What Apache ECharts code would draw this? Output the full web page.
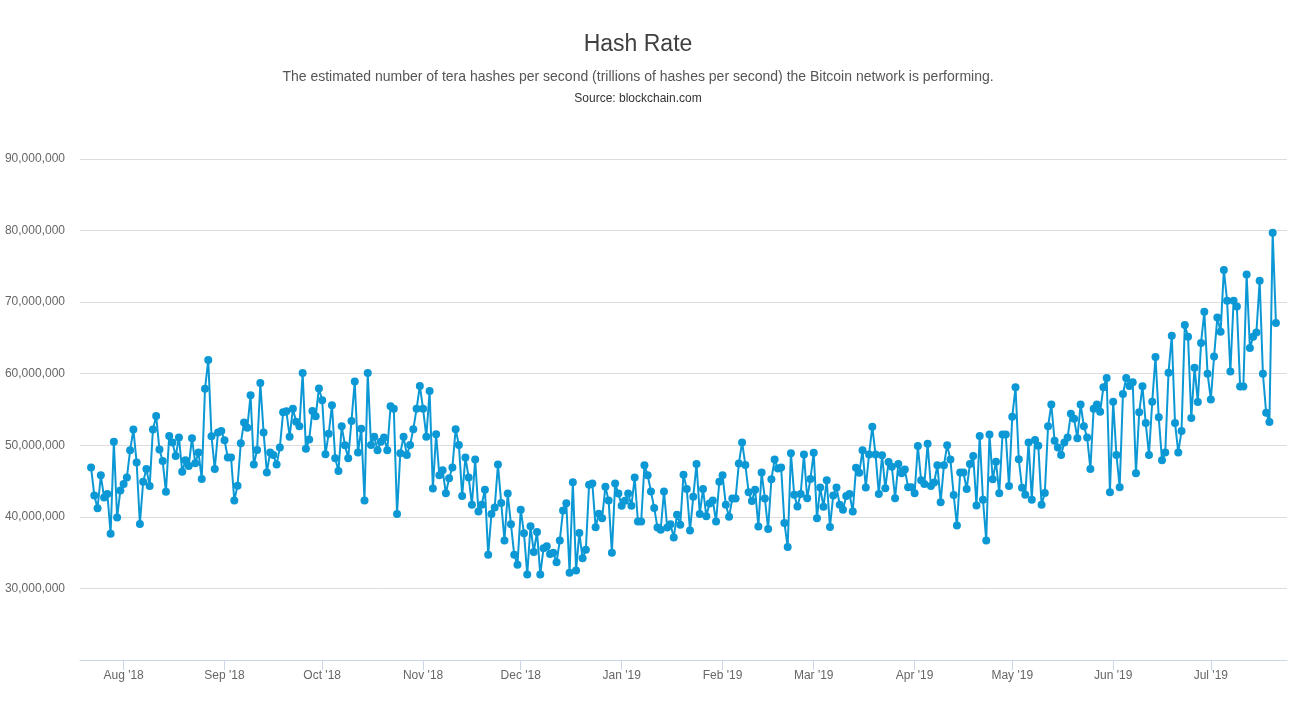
<!DOCTYPE html>
<html><head><meta charset="utf-8">
<script src="https://cdn.jsdelivr.net/npm/echarts@6/dist/echarts.min.js"></script>
<style>html,body{margin:0;padding:0;background:#fff}#chart{width:1304px;height:708px}</style>
</head><body><div id="chart"></div>
<script>
// Daily hash rate, in millions of TH/s, starting 2018-07-22
const startDate = [2018, 6, 22];
const hashRateMillions = [
  46.9, 43.0, 41.2, 45.8, 42.7, 43.2, 37.65, 50.5, 39.9, 43.7,
  44.6, 45.5, 49.3, 52.2, 47.6, 39.0, 44.9, 46.7, 44.3, 52.2,
  54.1, 49.4, 47.8, 43.5, 51.3, 50.4, 48.5, 51.1, 46.3, 47.9,
  47.1, 51.0, 47.5, 49.0, 45.3, 57.9, 61.9, 51.25, 46.7, 51.8,
  52.0, 50.7, 48.3, 48.3, 42.3, 44.35, 50.3, 53.2, 52.45, 57.0,
  47.3, 49.35, 58.7, 51.8, 46.2, 49.0, 48.65, 47.3, 49.7, 54.6,
  54.75, 51.2, 55.1, 53.3, 52.65, 60.1, 49.5, 50.8, 54.8, 54.05,
  57.95, 56.3, 48.75, 51.6, 55.6, 48.2, 46.4, 52.65, 50.0, 48.2,
  53.4, 58.9, 49.0, 52.3, 42.3, 60.1, 50.05, 51.2, 49.3, 50.5,
  51.1, 49.3, 55.45, 55.1, 40.4, 48.9, 51.2, 48.65, 50.05, 52.25,
  55.1, 58.3, 55.1, 51.2, 57.6, 43.95, 51.55, 45.8, 46.5, 43.3,
  45.4, 46.9, 52.25, 50.05, 42.9, 48.3, 45.5, 41.7, 48.0, 40.75,
  41.7, 43.8,
  34.7, 40.4, 41.3, 47.3, 41.95, 36.7, 43.25, 38.95, 34.7, 33.3,
  41.0, 37.7, 31.95, 38.7, 35.1, 37.9, 31.95, 35.6, 35.9, 34.8,
  35.0, 33.65, 36.7, 40.9, 41.9, 32.2, 44.85, 32.5, 37.75, 34.2,
  35.4,
  44.5, 44.65, 38.55, 40.45, 39.8, 44.2, 42.3, 35.0, 44.65, 43.25,
  41.55, 42.25, 43.25, 41.55, 45.5, 39.35, 39.35, 47.2, 45.8, 43.55,
  41.25, 38.5, 38.2, 43.55, 38.5, 38.95, 37.1, 40.3, 38.9, 45.9,
  43.9, 38.1, 42.8, 47.4, 40.4, 43.9, 40.1, 41.85, 42.3, 39.35,
  44.9, 45.8, 41.7, 40.0, 42.55, 42.55, 47.45, 50.4, 47.25, 43.45,
  42.2, 43.8, 38.65, 46.2, 42.55, 38.3, 45.25, 48.0, 46.75, 46.9,
  39.15,
  35.8, 48.9, 43.1, 41.45, 43.2, 48.7, 42.6, 45.3, 48.97, 39.8,
  44.1, 41.4, 45.1, 38.6, 43.0, 44.1, 41.7, 41.0, 42.9, 43.2,
  40.75, 46.85, 46.15, 49.3, 44.1, 48.7, 52.6, 48.7, 43.2, 48.6,
  44.0,
  47.65, 47.0, 42.6, 47.4, 46.1, 46.6, 44.15, 44.15, 43.3, 49.9,
  45.1, 44.6, 50.2, 44.3, 44.8, 47.2, 42.05, 47.2, 50.0, 48.0,
  43.05, 38.8, 46.2, 46.2, 43.9, 47.4, 48.5, 41.6, 51.3, 42.4,
  36.7,
  51.5, 45.25, 47.7, 43.3, 51.5, 51.5, 44.3, 54.0, 58.1, 48.05,
  44.05, 43.1, 50.4, 42.4, 50.75, 49.95, 41.7, 43.35, 52.65, 55.7,
  50.65, 49.7, 48.65, 50.4, 51.1, 54.4, 53.7, 51.0, 55.7, 52.65,
  51.1, 46.7, 55.1, 55.7, 54.7, 58.1, 59.4, 43.45, 56.1, 48.65,
  44.15, 57.15, 59.4, 58.3, 58.8, 46.1, 54.6, 58.25, 53.1, 48.65,
  56.1, 62.35, 53.9, 47.9, 49.0, 60.15, 65.3, 53.1, 49.0, 52.0,
  66.8,
  65.15, 53.8, 60.85, 56.05, 64.3, 68.65, 60.0, 56.4, 62.4, 67.85,
  65.85, 74.5, 70.2, 60.3, 70.2, 69.4, 58.2, 58.2, 73.85, 63.6,
  65.15, 65.75, 73.0, 60.0, 54.55, 53.25, 79.7, 67.1
];
const monthNames = ['Jan', 'Feb', 'Mar', 'Apr', 'May', 'Jun', 'Jul', 'Aug', 'Sep', 'Oct', 'Nov', 'Dec'];
const yMin = 20000000, yMax = 90000000, yStep = 10000000;

const DAY = 86400000;
const t0 = new Date(startDate[0], startDate[1], startDate[2]).getTime();
const dates = hashRateMillions.map((_, i) => t0 + i * DAY);
const seriesData = hashRateMillions.map((v, i) => [dates[i], v * 1000000]);

const chart = echarts.init(document.getElementById('chart'), null, {renderer: 'canvas'});
const font = '"Liberation Sans", Arial, Helvetica, sans-serif';
chart.setOption({
  animation: false,
  backgroundColor: '#ffffff',
  title: [
    {text: 'Hash Rate', left: 638, textAlign: 'center', top: 33, padding: 0,
     textStyle: {fontFamily: font, fontSize: 23, fontWeight: 'normal', color: '#404040'}},
    {text: 'The estimated number of tera hashes per second (trillions of hashes per second) the Bitcoin network is performing.',
     left: 638, textAlign: 'center', top: 70, padding: 0,
     textStyle: {fontFamily: font, fontSize: 14, fontWeight: 'normal', color: '#555555'}},
    {text: 'Source: blockchain.com', left: 638, textAlign: 'center', top: 93, padding: 0,
     textStyle: {fontFamily: font, fontSize: 12, fontWeight: 'normal', color: '#333333'}}
  ],
  grid: {left: 80, right: 17, top: 159, bottom: 48, containLabel: false},
  xAxis: {
    type: 'time',
    min: t0 - 3.4 * DAY,
    max: dates[dates.length - 1] + 3.4 * DAY,
    splitNumber: 12,
    minInterval: 28 * DAY,
    maxInterval: 31 * DAY,
    axisLine: {show: true, lineStyle: {color: '#ccd6eb', width: 1}},
    axisTick: {show: true, length: 10, lineStyle: {color: '#ccd6eb'}},
    splitLine: {show: false},
    axisLabel: {
      fontFamily: font, fontSize: 12, color: '#666666', margin: 10,
      showMinLabel: false, showMaxLabel: false,
      formatter: function (val) {
        const d = new Date(val);
        return monthNames[d.getMonth()] + " '" + String(d.getFullYear()).slice(2);
      }
    }
  },
  yAxis: {
    type: 'value',
    min: yMin, max: yMax, interval: yStep,
    axisLine: {show: false},
    axisTick: {show: false},
    splitLine: {show: true, lineStyle: {color: '#dcdcdc', width: 1}},
    axisLabel: {
      fontFamily: font, fontSize: 12, color: '#666666', margin: 15,
      showMinLabel: false,
      formatter: function (v) { return String(v).replace(/\B(?=(\d{3})+(?!\d))/g, ','); }
    }
  },
  series: [{
    type: 'line',
    data: seriesData,
    showAllSymbol: true,
    symbol: 'circle',
    symbolSize: 8,
    itemStyle: {color: '#0b98d5'},
    lineStyle: {color: '#0b98d5', width: 2},
    emphasis: {disabled: true}
  }]
});
</script>
</body></html>
